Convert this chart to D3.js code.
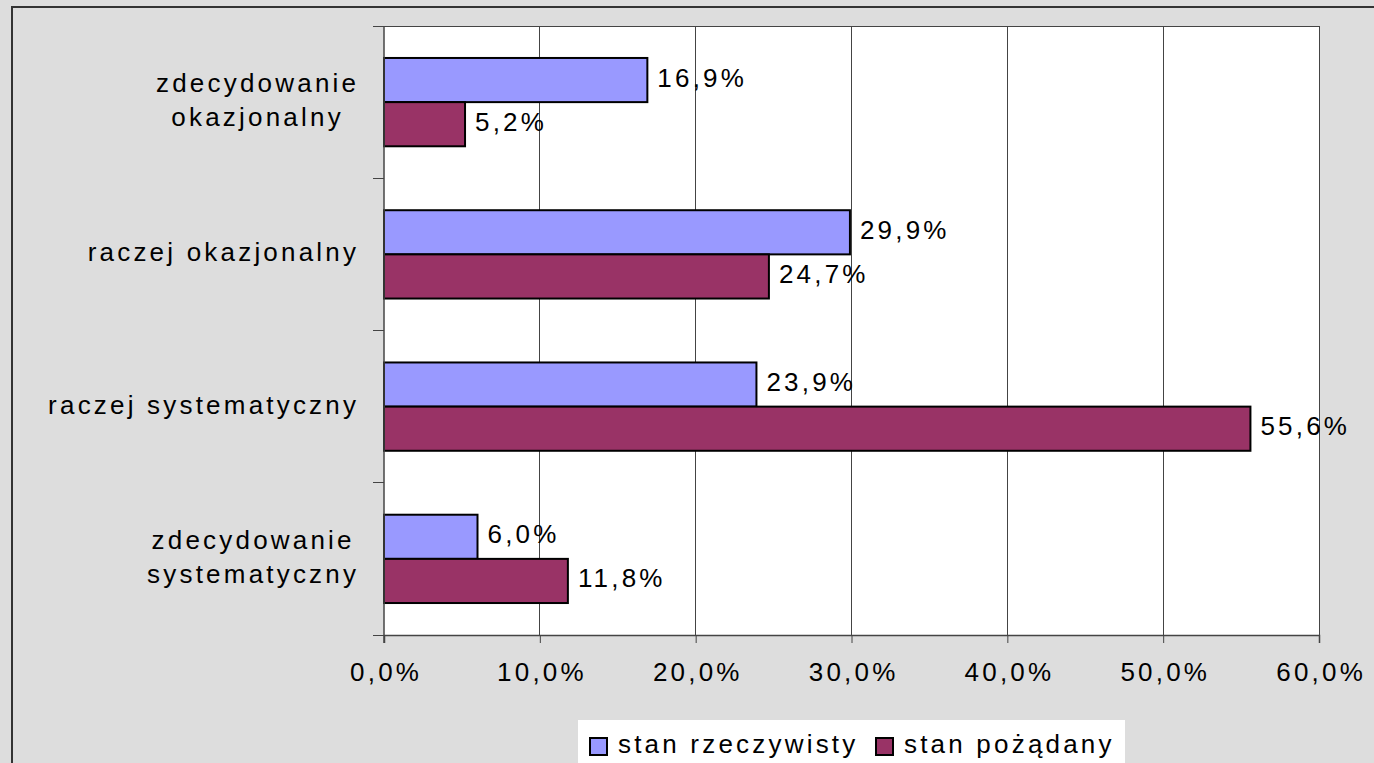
<!DOCTYPE html>
<html><head><meta charset="utf-8">
<script src="https://cdnjs.cloudflare.com/ajax/libs/d3/7.8.5/d3.min.js"></script>
<style>
html,body{margin:0;padding:0;background:#dddddd;overflow:hidden}
text{font-family:"Liberation Sans",Arial,sans-serif;fill:#000}
</style></head>
<body>
<svg id="c" width="1374" height="763"></svg>
<script>
const categories = [["zdecydowanie","okazjonalny"],["raczej okazjonalny"],["raczej systematyczny"],["zdecydowanie","systematyczny"]];
const seriesNames = ["stan rzeczywisty","stan pożądany"];
const actual = [16.9, 29.9, 23.9, 6.0];
const desired = [5.2, 24.7, 55.6, 11.8];
const xTicks = [0,10,20,30,40,50,60];
const colors = ["#9999ff","#993366"];

const fs = 26, ls = 3.2;
const svg = d3.select("#c");
svg.append("rect").attr("x",0).attr("y",0).attr("width",1374).attr("height",763).attr("fill","#dddddd");
svg.append("rect").attr("x",12).attr("y",7).attr("width",1400).attr("height",800)
  .attr("fill","none").attr("stroke","#333").attr("stroke-width",2);

const L=384, R=1319, T=26, B=635;
const ids = categories.map((c,i)=>"c"+i);
const x = d3.scaleLinear().domain([0,60]).range([L,R]);
const y = d3.scaleBand().domain(ids).range([T,B]).paddingInner(0.42).paddingOuter(0.21);
const ys = d3.scaleBand().domain([0,1]).range([0,y.bandwidth()]);

svg.append("rect").attr("x",L).attr("y",T).attr("width",R-L).attr("height",B-T).attr("fill","#fff");
// gridlines
svg.append("g").selectAll("line").data(xTicks.slice(1)).join("line")
  .attr("x1",d=>x(d)).attr("x2",d=>x(d)).attr("y1",T).attr("y2",B)
  .attr("stroke","#444").attr("stroke-width",1).attr("shape-rendering","crispEdges");
svg.append("line").attr("x1",L).attr("x2",R).attr("y1",T+0.5).attr("y2",T+0.5).attr("stroke","#444");

// bars
const data = ids.map((id,i)=>({id, vals:[actual[i],desired[i]]}));
const g = svg.append("g");
data.forEach(d=>{
  d.vals.forEach((v,j)=>{
    g.append("rect").attr("x",x(0)).attr("y",y(d.id)+ys(j)).attr("width",x(v)-x(0)).attr("height",ys.bandwidth())
      .attr("fill",colors[j]).attr("stroke","#000").attr("stroke-width",2);
    g.append("text").attr("x",x(v)+10).attr("y",y(d.id)+ys(j)+ys.bandwidth()/2+6.5)
      .attr("font-size",fs).attr("letter-spacing",ls).text(v.toFixed(1).replace(".",",")+"%");
  });
});

// x axis
const xa = svg.append("g").attr("transform",`translate(0,${B})`)
  .call(d3.axisBottom(x).tickValues(xTicks).tickSize(8).tickPadding(20).tickFormat(d=>d.toFixed(1).replace(".",",")+"%"));
xa.select(".domain").attr("stroke","#444").attr("stroke-width",1.5);
xa.selectAll(".tick line").attr("stroke","#444");
xa.selectAll("text").attr("font-size",fs).attr("letter-spacing",ls).attr("fill","#000")
  .attr("font-family","Liberation Sans, Arial, sans-serif").attr("dx",ls/2).attr("dy","0.7em");

// y axis: ticks at band boundaries
const bounds = ids.map(id=>y(id)-y.step()*y.paddingInner()/2).concat([B]);
svg.append("g").selectAll("line").data(bounds).join("line")
  .attr("x1",L-11).attr("x2",L).attr("y1",d=>d).attr("y2",d=>d).attr("stroke","#444").attr("shape-rendering","crispEdges");
svg.append("line").attr("x1",L).attr("x2",L).attr("y1",T).attr("y2",B+8).attr("stroke","#444").attr("stroke-width",1.5);

// category labels
const right = 356;
categories.forEach((lines,i)=>{
  const cy = y(ids[i]) + y.bandwidth()/2;
  const lh = 34;
  const n = lines.length;
  const tg = svg.append("g");
  const ts = lines.map((t,k)=>tg.append("text").attr("font-size",fs).attr("letter-spacing",ls)
      .attr("y", cy + 7 + (k-(n-1)/2)*lh).text(t));
  const w = d3.max(ts, t=>t.node().getComputedTextLength()) - ls;
  ts.forEach(t=>t.attr("text-anchor","middle").attr("x", right - w/2 + ls/2));
});

// legend
svg.append("rect").attr("x",578).attr("y",720).attr("width",547).attr("height",60).attr("fill","#fff");
const legX = [590, 876];
seriesNames.forEach((s,j)=>{
  svg.append("rect").attr("x",legX[j]).attr("y",738).attr("width",17).attr("height",17)
    .attr("fill",colors[j]).attr("stroke","#000").attr("stroke-width",2);
  svg.append("text").attr("x",legX[j]+28).attr("y",753).attr("font-size",fs).attr("letter-spacing",ls).text(s);
});
</script>
</body></html>
